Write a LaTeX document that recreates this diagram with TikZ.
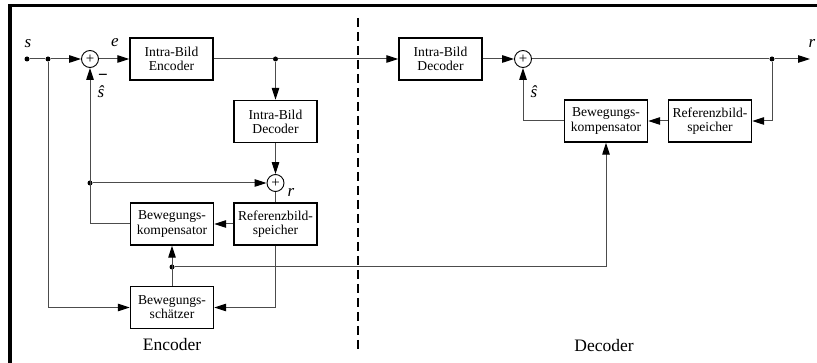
\documentclass[tikz,border=0pt]{standalone}
\usepackage{fontspec}
\setmainfont{Liberation Serif}
\newfontfamily\tnr{Liberation Serif}
\usetikzlibrary{arrows.meta}
\begin{document}
\begin{tikzpicture}[x=1pt,y=-1pt,
 blk/.style={draw=black, line width=1.4pt, minimum width=83pt, minimum height=42pt, align=center, inner sep=0pt, font=\tnr\fontsize{13.6}{14.2}\selectfont},
 sumn/.style={draw=black, circle, line width=0.9pt, minimum size=17pt, inner sep=0pt, font=\tnr\fontsize{15}{15}\selectfont},
 conn/.style={draw=black!70, line width=1pt},
 arr/.style={conn, -{Triangle[length=12pt,width=7.5pt,color=black]}},
 dotn/.style={circle, fill=black, inner sep=0pt, minimum size=5pt},
 lab/.style={font=\tnr\fontsize{17}{17}\selectfont\itshape, inner sep=0pt},
 big/.style={font=\tnr\fontsize{17.5}{17.5}\selectfont, inner sep=0pt},
 sep/.style={draw=black, line width=1.4pt, dash pattern=on 9pt off 5pt},
]
\useasboundingbox (0,0) rectangle (817,363);
\fill[white] (0,0) rectangle (817,363);
\draw[line width=3.5pt, line join=miter] (10,363) -- (10,5.5) -- (817,5.5);
\draw[sep] (358,18) -- (358,350);

% blocks
\node[blk] (enc)   at (171.5,59)  {Intra-Bild\\Encoder};
\node[blk] (idecE) at (275.5,121.5) {Intra-Bild\\Decoder};
\node[blk] (komE)  at (172,224)   {Bewegungs-\\kompensator};
\node[blk] (refE)  at (275.5,224) {Referenzbild-\\speicher};
\node[blk] (schE)  at (172,307.5) {Bewegungs-\\schätzer};
\node[blk] (idecD) at (440.5,59)  {Intra-Bild\\Decoder};
\node[blk] (komD)  at (606,121)   {Bewegungs-\\kompensator};
\node[blk] (refD)  at (710,121)   {Referenzbild-\\speicher};

% summing points
\node[sumn] (sum1) at (90,59) {+};
\node[sumn] (sum2) at (275.5,183) {+};
\node[sumn] (sum3) at (523,59) {+};

% dots
\node[dotn] (s0) at (27,59) {};
\node[dotn] (s1) at (48,59) {};
\node[dotn] (d1) at (275.5,59) {};
\node[dotn] (d2) at (90,183) {};
\node[dotn] (d3) at (172,267) {};
\node[dotn] (d4) at (772,59) {};
\coordinate (out) at (810,59);

% connectors encoder
\draw[conn] (s0) -- (s1);
\draw[arr] (s1) -- (sum1);
\draw[arr] (sum1) -- (enc);
\draw[conn] (enc) -- (d1);
\draw[arr] (d1) -- (idecD);
\draw[arr] (d1) -- (idecE);
\draw[arr] (idecE) -- (sum2);
\draw[arr] (d2) -- (sum2);
\draw[conn] (sum2) -- (refE);
\draw[arr] (refE) -- (komE);
\draw[arr] (komE.west) -| (sum1);
\draw[arr] (s1) |- (schE);
\draw[arr] (refE.south) |- (schE.east);
\draw[arr] (schE) -- (komE);
\draw[arr] (d3) -| (komD);

% connectors decoder
\draw[arr] (idecD) -- (sum3);
\draw[conn] (sum3) -- (d4);
\draw[arr] (d4) -- (out);
\draw[arr] (d4) |- (refD.east);
\draw[arr] (refD) -- (komD);
\draw[arr] (komD.west) -| (sum3);

% labels
\node[lab] (ls) at (28,44) {s};
\node[lab] (le) at (115,43) {e};
\node[lab] (lr1) at (291,192) {r};
\node[lab] (lr2) at (812,43) {r};
\node[lab] (lsh1) at (101,92) {ŝ};
\node[lab] (lsh2) at (534,92) {ŝ};
\node[font=\tnr\fontsize{17}{17}\selectfont\bfseries, inner sep=0pt] (lm) at (103,77) {−};
\node[big] (lenc) at (172,345) {Encoder};
\node[big] (ldec) at (604,346) {Decoder};
\end{tikzpicture}
\end{document}
